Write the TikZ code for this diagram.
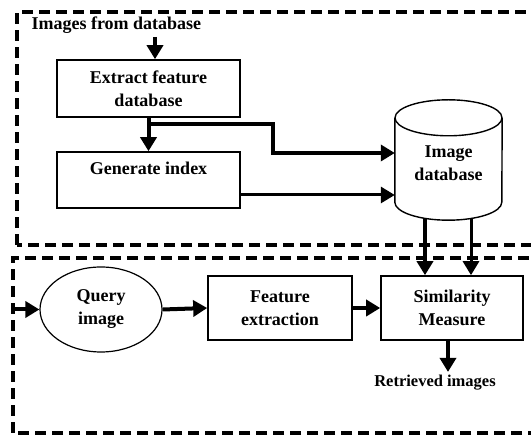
\documentclass[tikz,border=0pt]{standalone}
\usepackage{fontspec}
\setmainfont{Liberation Serif}[BoldFont={Liberation Serif Bold}]
\usetikzlibrary{arrows.meta,shapes.geometric,calc}
\begin{document}
\begin{tikzpicture}[x=1pt,y=1pt,
  txt/.style={font=\fontsize{18}{23}\selectfont\bfseries, align=center},
  box/.style={txt, draw, line width=1.6pt, inner sep=0pt},
  frame/.style={line width=4pt, dash pattern=on 11pt off 6pt},
  arr/.style={line width=4pt, -{Triangle[length=14pt,width=16pt]}},
  arrthin/.style={line width=3pt, -{Triangle[length=14pt,width=16pt]}},
  rim/.style={line width=1.4pt},
]
\useasboundingbox (0,0) rectangle (531,436);
\clip (0,0) rectangle (531,436);

% the two dashed stage frames (open to the right)
\draw[frame] (17,191) rectangle (560,424);
\draw[frame] (13,3) rectangle (560,178);

% database preparation stage
\node[txt, anchor=west] (title) at (28,411) {Images from database};
\node[box, minimum width=183pt, minimum height=57pt] (ext) at (148.5,347.5) {Extract feature\\database};
\node[box, minimum width=183pt, minimum height=56pt] (gen) at (148.5,256) {Generate index\\\mbox{}};

% image database cylinder
\node[minimum width=107pt, minimum height=120pt, inner sep=0pt] (db) at (448.5,276) {};
\draw[rim] ([yshift=-18pt]db.north) ellipse [x radius=53.5pt, y radius=18pt];
\draw[rim] ([yshift=-18pt]db.north west) -- ([yshift=18pt]db.south west)
  arc[start angle=180, end angle=360, x radius=53.5pt, y radius=18pt]
  -- ([yshift=-18pt]db.north east);
\node[txt] (dblabel) at (448.5,273) {Image\\database};

% query stage
\node[txt, draw, ellipse, line width=1.2pt, minimum width=122pt, minimum height=85pt, inner sep=0pt] (q) at (101,126.5) {Query\\image};
\node[box, minimum width=144pt, minimum height=64pt] (feat) at (280,128) {Feature\\extraction};
\node[box, minimum width=142pt, minimum height=64pt] (sim) at (452,128) {Similarity\\Measure};
\node[txt, font=\fontsize{16.5}{20}\selectfont\bfseries] (ret) at (435,53) {Retrieved images};

% connectors
\coordinate (a) at ([xshift=6.5pt]ext.north);
\draw[arr] (title.south -| a) -- (a);
\draw[arr] (ext.south) -- (gen.north);
\coordinate (j) at ($(ext.south)+(0,-6)$);
\coordinate (k) at (273,283);
\draw[arr] (j) -- (j -| k) -- (k) -- (k -| db.west);
\draw[arrthin] ([yshift=-15pt]gen.east) -- ([yshift=-15pt]gen.east -| db.west);
\draw[arr] ([xshift=-23.5pt,yshift=2pt]db.south) -- ([xshift=-23.5pt]db.south |- sim.north);
\draw[arrthin] ([xshift=22.5pt,yshift=2pt]db.south) -- ([xshift=22.5pt]db.south |- sim.north);

\coordinate (in) at (13,126.5);
\draw[arr] (in) -- (q.west);
\draw[arr] (q.east) -- (feat.west);
\draw[arr] (feat.east) -- (sim.west);
\draw[arr] ([xshift=-4pt]sim.south) -- ([xshift=-4pt]sim.south |- ret.north);
\end{tikzpicture}
\end{document}
